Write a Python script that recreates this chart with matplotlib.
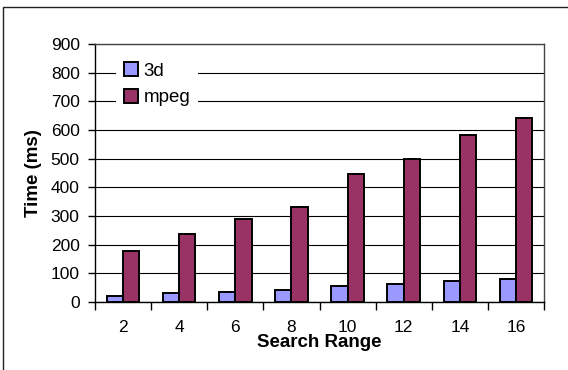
import matplotlib
matplotlib.use("Agg")
import matplotlib.pyplot as plt
from matplotlib.patches import Rectangle
import numpy as np

plt.rcParams['font.family'] = ['Liberation Sans', 'DejaVu Sans']

# Search range values and measured times (ms)
search_range = ["2", "4", "6", "8", "10", "12", "14", "16"]
time_3d = [22, 30, 36, 42, 56, 63, 73, 80]
time_mpeg = [178, 237, 291, 333, 446, 499, 583, 641]
y_ticks = [0, 100, 200, 300, 400, 500, 600, 700, 800, 900]

color_3d = "#9999FF"
color_mpeg = "#993366"

fig = plt.figure(figsize=(5.68, 3.70), dpi=100)
ax = fig.add_axes([95 / 568, 68 / 370, 449 / 568, 258 / 370])

# outer chart frame
fig.patches.append(Rectangle((2.5 / 568, -0.2), 1.2, 1.2 - 6.5 / 370,
                             transform=fig.transFigure, fill=False,
                             edgecolor="#222222", linewidth=1.0))

x = np.arange(len(search_range))
w = 0.29
ax.bar(x, time_3d, width=-w, align="edge", color=color_3d,
       edgecolor="black", linewidth=1.4, label="3d", zorder=3)
ax.bar(x, time_mpeg, width=w, align="edge", color=color_mpeg,
       edgecolor="black", linewidth=1.4, label="mpeg", zorder=3)

ax.set_xlim(-0.5, len(search_range) - 0.5)
ax.set_ylim(0, 900)
ax.set_yticks(y_ticks)
ax.yaxis.grid(True, color="black", linewidth=0.8, zorder=0)
ax.set_axisbelow(True)

ax.set_xticks(x)
ax.set_xticklabels(search_range)
ax.set_xticks(np.arange(-0.5, len(search_range)), minor=True)
ax.tick_params(axis="x", which="major", length=0, pad=13, labelsize=12.5)
ax.tick_params(axis="x", which="minor", length=6, width=1, direction="out")
ax.tick_params(axis="y", length=5, width=1, direction="out", pad=6, labelsize=12.5)

for s in ["left", "bottom"]:
    ax.spines[s].set_color("black")
    ax.spines[s].set_linewidth(1.0)
for s in ["top", "right"]:
    ax.spines[s].set_color("#444444")
    ax.spines[s].set_linewidth(1.0)

ax.set_xlabel("Search Range", fontsize=13.5, fontweight="bold", labelpad=-1)
ax.set_ylabel("Time (ms)", fontsize=13.5, fontweight="bold", labelpad=6)

leg = ax.legend(loc="upper left", bbox_to_anchor=(0.027, 0.995), frameon=True,
                fontsize=13.5, handlelength=0.75, handleheight=0.75,
                handletextpad=0.3, labelspacing=0.5, borderpad=0.4,
                fancybox=False)
leg.get_frame().set_edgecolor("none")
leg.get_frame().set_facecolor("white")
leg.get_frame().set_alpha(1.0)
leg.set_zorder(5)

fig.savefig("out.png", dpi=100)
